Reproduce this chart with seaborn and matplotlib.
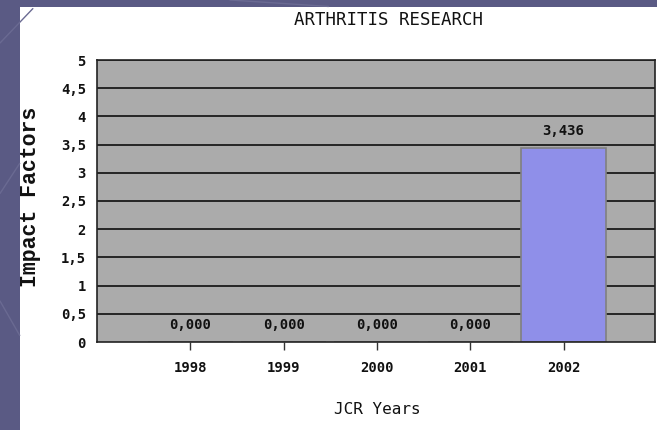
import matplotlib
matplotlib.use("Agg")
import matplotlib.pyplot as plt
import seaborn as sns
import pandas as pd
from matplotlib.patches import Rectangle

years = ["1998", "1999", "2000", "2001", "2002"]
impact = [0.0, 0.0, 0.0, 0.0, 3.436]
yticks = [0, 0.5, 1, 1.5, 2, 2.5, 3, 3.5, 4, 4.5, 5]
ytick_labels = ["0", "0,5", "1", "1,5", "2", "2,5", "3", "3,5", "4", "4,5", "5"]

sns.set_theme(style="white")
plt.rcParams['font.family'] = ['DejaVu Sans Mono', 'DejaVu Sans']

fig = plt.figure(figsize=(6.57, 4.30), dpi=100)
fig.patch.set_facecolor("#5a5a84")
# decorative faint diagonal lines on slide background
for (x0, y0, x1, y1) in [(0, 0.9, 0.05, 0.98), (0, 0.55, 0.03, 0.62), (0, 0.3, 0.03, 0.22), (0.35, 1.0, 0.5, 0.985)]:
    fig.add_artist(plt.Line2D([x0, x1], [y0, y1], color="#6a6a92", lw=1, transform=fig.transFigure))
fig.add_artist(Rectangle((20 / 657, 0), 1, (430 - 7) / 430, transform=fig.transFigure,
                         facecolor="white", edgecolor="none", zorder=0))

ax = fig.add_axes([97 / 657, (430 - 342) / 430, (655 - 97) / 657, (342 - 60) / 430])
df = pd.DataFrame({"year": years, "impact": impact})
ax.set_facecolor("#ababab")
for y in yticks[1:]:
    ax.axhline(y, color="#1a1a1a", lw=1.3, zorder=0.5)
sns.barplot(data=df, x="year", y="impact", color="#8f8fe9", saturation=1, width=0.91,
            edgecolor="#808080", linewidth=1.2, ax=ax, zorder=2)

ax.set_xlim(-1, 4.98)
ax.set_ylim(0, 5)
ax.set_yticks(yticks)
ax.set_yticklabels(ytick_labels, fontsize=10, fontweight="bold", color="#111111")
ax.tick_params(axis="y", length=0, pad=8)
ax.tick_params(axis="x", direction="out", length=6, width=1, color="#333333", bottom=True, pad=8)
for lbl in ax.get_xticklabels():
    lbl.set_fontsize(10)
    lbl.set_fontweight("bold")
    lbl.set_color("#111111")

for i, v in enumerate(impact):
    ax.text(i, v + 0.3, f"{v:.3f}".replace(".", ","), ha="center", va="center",
            fontsize=10, fontweight="bold", color="#111111", zorder=3)

for s in ["left", "bottom", "right", "top"]:
    ax.spines[s].set_visible(True)
    ax.spines[s].set_color("#222222")
    ax.spines[s].set_linewidth(1.2)

ax.set_xlabel("")
ax.set_ylabel("")
fig.text(388 / 657, 1 - 20 / 430, "ARTHRITIS RESEARCH", ha="center", va="center",
         fontsize=12.5, color="#111111")
fig.text(377 / 657, 1 - 410 / 430, "JCR Years", ha="center", va="center",
         fontsize=11.5, color="#111111")
fig.text(31 / 657, 1 - 197 / 430, "Impact Factors", ha="center", va="center", rotation=90,
         fontsize=15.5, fontweight="bold", color="#111111", family=["Liberation Mono", "DejaVu Sans Mono"])

fig.savefig("out.png", dpi=100, facecolor=fig.get_facecolor())
